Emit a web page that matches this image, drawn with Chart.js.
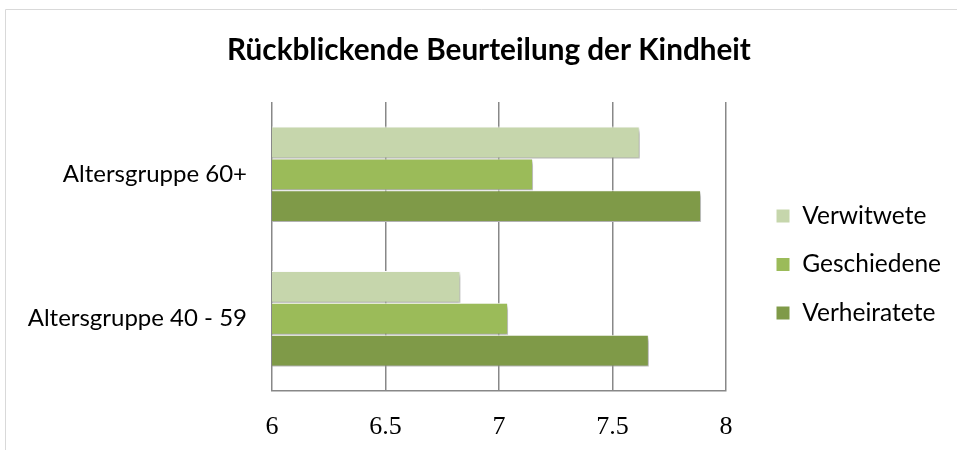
<!DOCTYPE html>
<html><head><meta charset="utf-8">
<script src="https://cdn.jsdelivr.net/npm/chart.js@4/dist/chart.umd.min.js"></script>
<style>html,body{margin:0;padding:0;background:#fff;}#wrap{width:957px;height:450px;}</style>
</head><body><div id="wrap"><canvas id="c" width="957" height="450"></canvas></div>
<script>
const categories = ['Altersgruppe 60+', 'Altersgruppe 40 - 59'];
const verwitwete = [7.62, 6.83];
const geschiedene = [7.15, 7.04];
const verheiratete = [7.89, 7.66];
const seriesNames = ['Verwitwete', 'Geschiedene', 'Verheiratete'];
const xTicks = [6, 6.5, 7, 7.5, 8];
const titleText = 'Rückblickende Beurteilung der Kindheit';

const frame = {
  id: 'frame',
  beforeDraw(chart) {
    const ctx = chart.ctx;
    ctx.save();
    ctx.strokeStyle = '#d9d9d9';
    ctx.lineWidth = 1;
    ctx.beginPath();
    ctx.moveTo(5.5, 450); ctx.lineTo(5.5, 9.5); ctx.lineTo(957, 9.5);
    ctx.stroke();
    ctx.restore();
  }
};
const shadow = {
  id: 'shadow',
  beforeDatasetsDraw(chart) {
    const ctx = chart.ctx;
    ctx.save();
    ctx.shadowColor = 'rgba(0,0,0,0.35)';
    ctx.shadowBlur = 4;
    ctx.shadowOffsetX = 2;
    ctx.shadowOffsetY = 3;
  },
  afterDatasetsDraw(chart) { chart.ctx.restore(); }
};

new Chart(document.getElementById('c'), {
  type: 'bar',
  data: {
    labels: categories,
    datasets: [
      { label: seriesNames[0], data: verwitwete, backgroundColor: '#C6D6AC' },
      { label: seriesNames[1], data: geschiedene, backgroundColor: '#9BBB59' },
      { label: seriesNames[2], data: verheiratete, backgroundColor: '#7F9A48' }
    ].map(d => Object.assign(d, { borderColor: '#ffffff', borderWidth: 1, barPercentage: 1, categoryPercentage: 0.66 }))
  },
  options: {
    indexAxis: 'y',
    responsive: false,
    animation: false,
    layout: { padding: { left: 27, right: 6, top: 33, bottom: -46 } },
    plugins: {
      title: {
        display: true, text: titleText, color: '#000',
        font: { family: 'Lato', weight: 'bold', size: 29.7, lineHeight: 1.2 },
        padding: { top: 0, bottom: 33.4 }
      },
      legend: {
        position: 'right',
        maxWidth: 400,
        labels: {
          color: '#000', boxWidth: 14, boxHeight: 14, padding: 24,
          font: { family: 'Lato', size: 24.5 }
        }
      },
      tooltip: { enabled: false }
    },
    scales: {
      x: {
        min: 6, max: 8,
        afterBuildTicks(scale) { scale.ticks = xTicks.map(v => ({ value: v })); },
        afterFit(scale) { scale.height = 105; },
        grid: { color: '#888', lineWidth: 1.5, drawTicks: false },
        border: { color: '#888', width: 1.5 },
        ticks: {
          color: '#000', padding: 21, maxRotation: 0, autoSkip: false,
          font: { family: 'Liberation Serif', size: 26 },
          callback: (v) => String(v)
        }
      },
      y: {
        afterFit(scale) { scale.width = 245; },
        grid: { display: false, drawTicks: false },
        border: { display: false },
        ticks: { color: '#000', padding: 25, font: { family: 'Lato', size: 24 } }
      },
      gap: {
        type: 'category', position: 'right', axis: 'y',
        afterFit(scale) { scale.width = 26; },
        grid: { display: false, drawTicks: false },
        border: { display: false },
        ticks: { display: false }
      }
    }
  },
  plugins: [frame, shadow]
});
</script></body></html>
